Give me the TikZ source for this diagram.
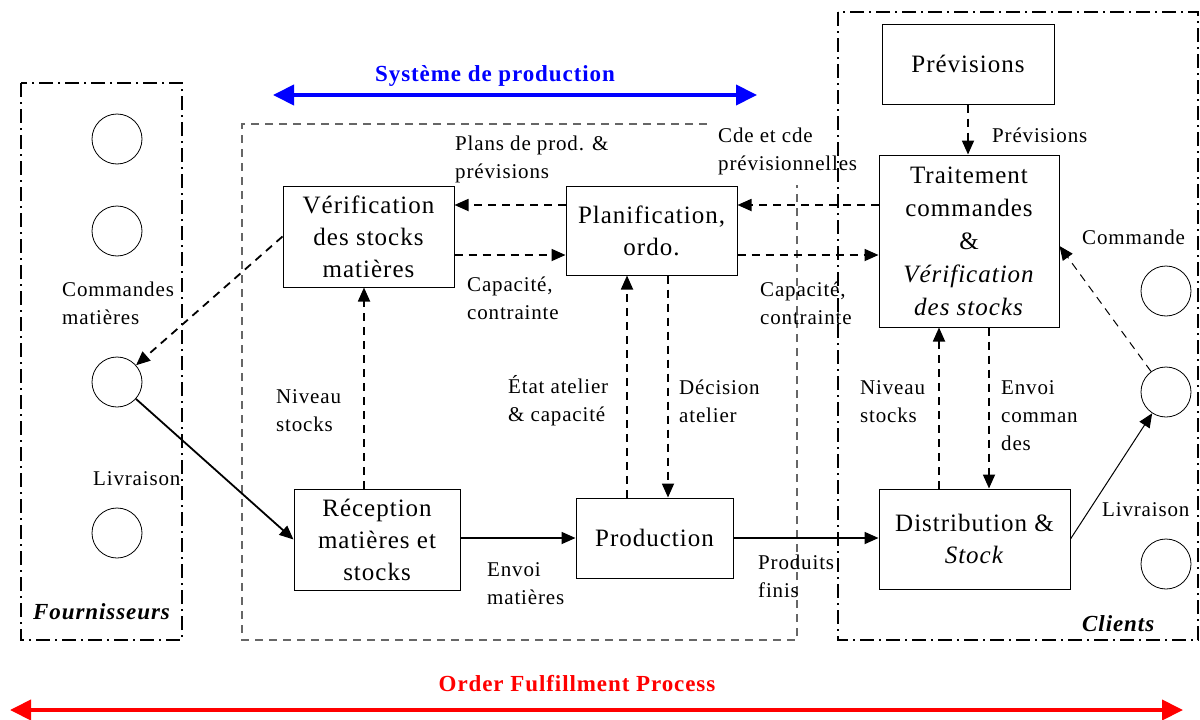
\documentclass[tikz,border=0pt]{standalone}
\usepackage{fontspec}
\setmainfont{Liberation Serif}
\newfontfamily\spfont{Liberation Serif}[LetterSpace=4]
\usetikzlibrary{arrows.meta}
\begin{document}
\begin{tikzpicture}[x=1pt,y=-1pt,
  box/.style={draw,line width=1pt,inner sep=0pt,align=center,font=\spfont\fontsize{25}{32}\selectfont},
  lbl/.style={anchor=west,align=left,inner sep=0pt,font=\spfont\fontsize{21}{28}\selectfont},
  ttl/.style={font=\spfont\fontsize{23}{26}\selectfont\bfseries},
  circ/.style={draw,circle,line width=0.8pt,minimum size=50pt,inner sep=0pt},
  dashdot/.style={line width=1.8pt,dash pattern=on 14pt off 5pt on 2pt off 5pt},
  grayframe/.style={draw=black!60,line width=1.4pt,dash pattern=on 8pt off 6pt},
  darr/.style={line width=1.8pt,dash pattern=on 8pt off 6pt,-{Triangle[length=14pt,width=12pt]}},
  sarr/.style={line width=1.8pt,-{Triangle[length=14pt,width=12pt]}},
  tarr/.style={line width=1pt,-{Triangle[length=14pt,width=12pt]}},
  tdarr/.style={line width=1pt,dash pattern=on 8pt off 6pt,-{Triangle[length=14pt,width=12pt]}},
  bigarr/.style={line width=4pt,{Triangle[length=21pt,width=20pt]}-{Triangle[length=21pt,width=20pt]}}
]
\useasboundingbox (0,0) rectangle (1200,720);

% frames
\draw[dashdot] (21,83) rectangle (182,640);
\draw[dashdot] (838,12) rectangle (1198,640);
\draw[grayframe] (707,124) -- (242,124) -- (242,640) -- (797,640) -- (797,185);

% titles
\node[ttl,text=blue] (tsys) at (495,76) {Système de production};
\coordinate (bl) at (273,95);
\coordinate (br) at (757,95);
\draw[bigarr,blue] (bl) -- (br);
\node[ttl,text=red] (tofp) at (577,684) {Order Fulfillment Process};
\coordinate (rl) at (10,710);
\coordinate (rr) at (1183,710);
\draw[bigarr,red] (rl) -- (rr);

% supplier circles
\node[circ] (f1) at (117,139) {};
\node[circ] (f2) at (117,231) {};
\node[circ] (f3) at (117,382) {};
\node[circ] (f4) at (117,533) {};
% client circles
\node[circ] (c1) at (1166,291) {};
\node[circ] (c2) at (1166,392) {};
\node[circ] (c3) at (1166,564) {};

% boxes
\node[box,minimum width=171pt,minimum height=101pt] (verif) at (368.5,236.5) {Vérification\\des stocks\\matières};
\node[box,minimum width=171pt,minimum height=89pt] (planif) at (651.5,230.5) {Planification,\\ordo.};
\node[box,minimum width=166pt,minimum height=101pt] (recep) at (377,539.5) {Réception\\matières et\\stocks};
\node[box,minimum width=157pt,minimum height=80pt] (prod) at (654.5,538) {Production};
\node[box,minimum width=172pt,minimum height=80pt] (prev) at (968,64) {Prévisions};
\node[box,minimum width=180pt,minimum height=172pt,font=\spfont\fontsize{25}{33}\selectfont] (trait) at (969,241) {Traitement\\commandes\\\&\\\textit{Vérification}\\\textit{des stocks}};
\node[box,minimum width=191pt,minimum height=100pt] (distr) at (974.5,539) {Distribution \&\\\textit{Stock}};

% labels
\node[lbl] (lcm) at (62,303) {Commandes\\matières};
\node[lbl] (lliv1) at (93,479) {Livraison};
\node[lbl,font=\spfont\fontsize{23}{26}\selectfont\bfseries\itshape] (lfour) at (33,612) {Fournisseurs};
\node[lbl] (lplans) at (455,159) {Plans de prod. \&\\prévisions};
\node[lbl] (lcap1) at (467,298) {Capacité,\\contrainte};
\node[lbl] (lcde) at (718,151) {Cde et cde\\prévisionnelles};
\node[lbl] (lcap2) at (760,303) {Capacité,\\contrainte};
\node[lbl] (lprev) at (992,135) {Prévisions};
\node[lbl] (lcom) at (1082,237) {Commande};
\node[lbl] (lniv1) at (276,411) {Niveau\\stocks};
\node[lbl] (letat) at (508,401) {État atelier\\\& capacité};
\node[lbl] (ldec) at (679,401) {Décision\\atelier};
\node[lbl] (lenv) at (487,584) {Envoi\\matières};
\node[lbl] (lprodf) at (758,576) {Produits\\finis};
\node[lbl] (lniv2) at (860,402) {Niveau\\stocks};
\node[lbl] (lenvc) at (1001,416) {Envoi\\comman\\des};
\node[lbl] (lliv2) at (1102,510) {Livraison};
\node[lbl,font=\spfont\fontsize{23}{26}\selectfont\bfseries\itshape] (lcli) at (1082,624) {Clients};

% connectors
\draw[darr] (planif.west |- 0,205) -- (verif.east |- 0,205);
\draw[darr] (verif.east |- 0,255) -- (planif.west |- 0,255);
\draw[darr] (trait.west |- 0,205) -- (planif.east |- 0,205);
\draw[darr] (planif.east |- 0,255) -- (trait.west |- 0,255);
\draw[darr] (prev.south) -- (trait.north -| prev.south);
\draw[darr] (recep.north -| 364,0) -- (verif.south -| 364,0);
\draw[darr] (prod.north -| 627,0) -- (planif.south -| 627,0);
\draw[darr] (planif.south -| 668,0) -- (prod.north -| 668,0);
\draw[darr] (distr.north -| 939,0) -- (trait.south -| 939,0);
\draw[darr] (trait.south -| 989,0) -- (distr.north -| 989,0);
\draw[darr] (verif.west) -- (f3);
\draw[sarr] (f3) -- (recep.west);
\draw[sarr] (recep.east |- 0,538) -- (prod.west |- 0,538);
\draw[sarr] (prod.east |- 0,538) -- (distr.west |- 0,538);
\draw[tarr] (distr.east) -- (c2);
\draw[tdarr] (c2) -- (trait.east |- 0,246);
\end{tikzpicture}
\end{document}
